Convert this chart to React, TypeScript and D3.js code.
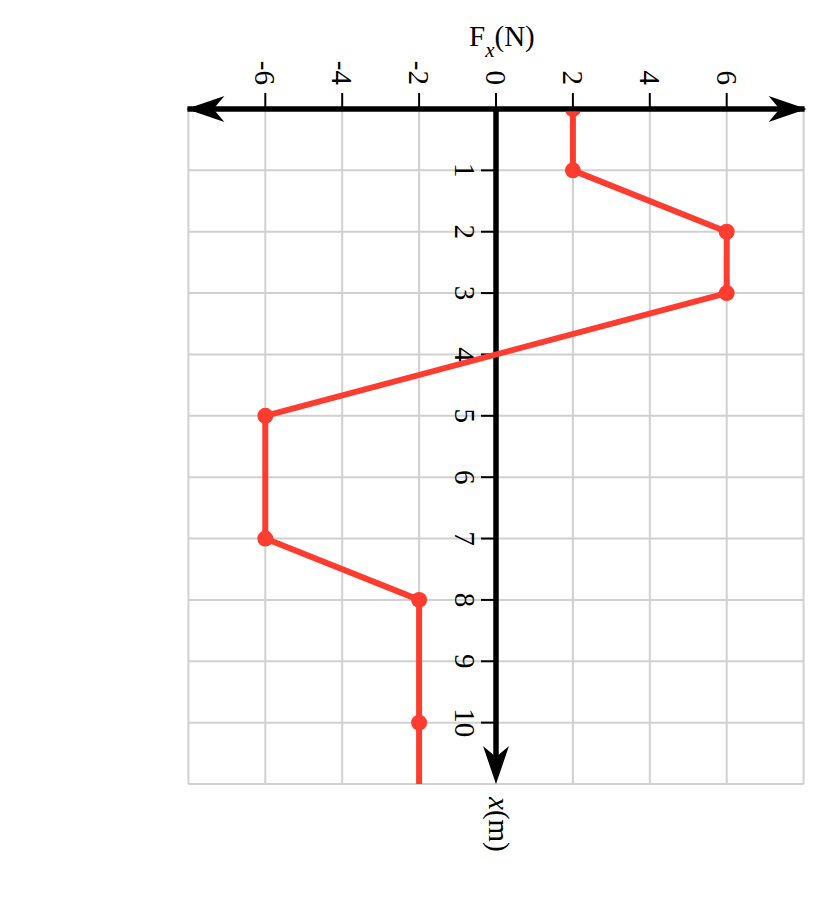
import { useEffect, useRef } from "react";
import * as d3 from "d3";

// force vs position (x in m, F in N)
const positions = [0, 1, 2, 3, 5, 7, 8, 10, 11];
const forces = [2, 2, 6, 6, -6, -6, -2, -2, -2];
const marked = [true, true, true, true, true, true, true, true, false];

const forceTicks = [-6, -4, -2, 0, 2, 4, 6];
const forceGrid = [-8, -6, -4, -2, 0, 2, 4, 6, 8];
const posTicks = [1, 2, 3, 4, 5, 6, 7, 8, 9, 10];
const posGrid = [0, 1, 2, 3, 4, 5, 6, 7, 8, 9, 10, 11];

const RED = "#fe3c2f";
const FONT = "'Liberation Serif', 'Times New Roman', serif";

export default function App() {
  const svgRef = useRef<SVGSVGElement | null>(null);
  const width = 822;
  const height = 898;

  useEffect(() => {
    if (!svgRef.current) return;
    const svg = d3.select(svgRef.current);
    svg.selectAll("*").remove();

    // chart is turned on its side: force runs left-right, position runs downward
    const fScale = d3.scaleLinear().domain([-8, 8]).range([188.4, 803.6]);
    const xScale = d3.scaleLinear().domain([0, 11]).range([109, 784]);

    const grid = svg.append("g").attr("stroke", "#d0d0d0").attr("stroke-width", 2);
    grid.selectAll("line.v")
      .data(forceGrid)
      .enter()
      .append("line")
      .attr("class", "v")
      .attr("x1", d => fScale(d))
      .attr("x2", d => fScale(d))
      .attr("y1", xScale(0))
      .attr("y2", xScale(11));
    grid.selectAll("line.h")
      .data(posGrid)
      .enter()
      .append("line")
      .attr("class", "h")
      .attr("x1", fScale(-8))
      .attr("x2", fScale(8))
      .attr("y1", d => xScale(d))
      .attr("y2", d => xScale(d));

    const axisW = 5.5;
    const arrowShape = "M0,0 L-38,-13 L-27,0 L-38,13 Z";

    // F axis (horizontal)
    const axY = xScale(0);
    svg.append("line")
      .attr("x1", fScale(-8) - 1)
      .attr("x2", fScale(8) + 1)
      .attr("y1", axY)
      .attr("y2", axY)
      .attr("stroke", "#000")
      .attr("stroke-width", axisW);
    svg.append("path")
      .attr("d", arrowShape)
      .attr("transform", `translate(${fScale(8) + 3},${axY})`);
    svg.append("path")
      .attr("d", arrowShape)
      .attr("transform", `translate(${fScale(-8) - 2},${axY}) rotate(180)`);

    // x axis (vertical)
    const axX = fScale(0);
    svg.append("line")
      .attr("x1", axX)
      .attr("x2", axX)
      .attr("y1", axY)
      .attr("y2", xScale(11) - 10)
      .attr("stroke", "#000")
      .attr("stroke-width", axisW);
    svg.append("path")
      .attr("d", arrowShape)
      .attr("transform", `translate(${axX},${xScale(11)}) rotate(90)`);

    // ticks
    svg.selectAll("line.ftick")
      .data(forceTicks)
      .enter()
      .append("line")
      .attr("class", "ftick")
      .attr("x1", d => fScale(d))
      .attr("x2", d => fScale(d))
      .attr("y1", axY - 16)
      .attr("y2", axY)
      .attr("stroke", "#000")
      .attr("stroke-width", 2);
    svg.selectAll("line.xtick")
      .data(posTicks)
      .enter()
      .append("line")
      .attr("class", "xtick")
      .attr("x1", axX - 15)
      .attr("x2", axX)
      .attr("y1", d => xScale(d))
      .attr("y2", d => xScale(d))
      .attr("stroke", "#000")
      .attr("stroke-width", 2);

    // tick labels, turned 90deg like the rest of the chart
    svg.selectAll("text.flabel")
      .data(forceTicks)
      .enter()
      .append("text")
      .attr("class", "flabel")
      .attr("transform", d => `translate(${fScale(d)},85) rotate(90)`)
      .attr("text-anchor", "end")
      .attr("dy", "0.35em")
      .style("font-family", FONT)
      .style("font-size", "29px")
      .text(d => String(d));
    svg.selectAll("text.xlabel")
      .data(posTicks)
      .enter()
      .append("text")
      .attr("class", "xlabel")
      .attr("transform", d => `translate(455,${xScale(d)}) rotate(90)`)
      .attr("text-anchor", "middle")
      .style("font-family", FONT)
      .style("font-size", "29px")
      .text(d => String(d));

    // axis titles
    const fTitle = svg.append("text")
      .attr("x", 469)
      .attr("y", 46)
      .style("font-family", FONT)
      .style("font-size", "29px");
    fTitle.append("tspan").text("F");
    fTitle.append("tspan")
      .attr("dy", 11)
      .style("font-size", "21px")
      .style("font-style", "italic")
      .text("x");
    fTitle.append("tspan").attr("dy", -11).text("(N)");

    const xTitle = svg.append("text")
      .attr("transform", "translate(489,797) rotate(90)")
      .style("font-family", FONT)
      .style("font-size", "29px");
    xTitle.append("tspan").style("font-style", "italic").text("x");
    xTitle.append("tspan").text("(m)");

    // the force curve, clipped just below the F axis
    svg.append("clipPath")
      .attr("id", "plotClip")
      .append("rect")
      .attr("x", fScale(-8))
      .attr("y", axY + axisW / 2)
      .attr("width", fScale(8) - fScale(-8))
      .attr("height", xScale(11) - axY + 4);

    const pts = positions.map((p, i) => ({ p, f: forces[i], m: marked[i] }));
    const line = d3.line<{ p: number; f: number }>()
      .x(d => fScale(d.f))
      .y(d => xScale(d.p));

    const curve = svg.append("g").attr("clip-path", "url(#plotClip)");
    curve.append("path")
      .attr("d", line(pts))
      .attr("fill", "none")
      .attr("stroke", RED)
      .attr("stroke-width", 6)
      .attr("stroke-linejoin", "round");
    curve.selectAll("circle")
      .data(pts.filter(d => d.m))
      .enter()
      .append("circle")
      .attr("cx", d => fScale(d.f))
      .attr("cy", d => xScale(d.p))
      .attr("r", 8)
      .attr("fill", RED);
  }, []);

  return (
    <svg
      ref={svgRef}
      width={width}
      height={height}
      style={{ position: "absolute", left: 0, top: 0, background: "#fff" }}
    />
  );
}
